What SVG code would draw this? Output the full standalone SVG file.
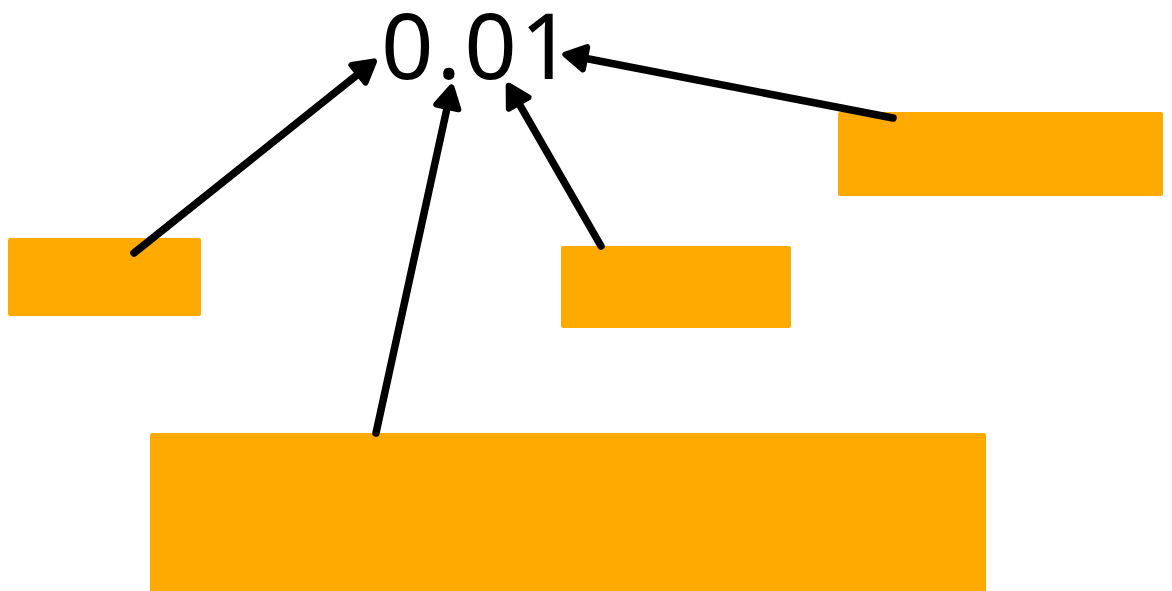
<svg xmlns="http://www.w3.org/2000/svg" width="1172" height="591" viewBox="0 0 1172 591">
<style>
.box{fill:#FFAA00}
.conn{stroke:#000;stroke-width:7.5;stroke-linecap:round;fill:none;marker-end:url(#ah)}
.lbl{font-family:"Noto Sans","Open Sans",sans-serif;font-size:92px;fill:#000}
</style>
<defs>
<marker id="ah" markerUnits="userSpaceOnUse" markerWidth="40" markerHeight="40" viewBox="-10 -15 30 30" refX="0" refY="0" orient="auto">
<path d="M-4,-8.5 L11,0 L-4,8.5 Z" fill="#000" stroke="#000" stroke-width="4.5" stroke-linejoin="round"/>
</marker>
</defs>
<rect width="1172" height="591" fill="#fff"/>
<g id="node-top"><text class="lbl" x="381" y="79" letter-spacing="3">0.01</text></g>
<g id="node-left"><rect class="box" x="8" y="238" width="193" height="78" rx="2"/></g>
<g id="node-right"><rect class="box" x="838" y="112" width="325" height="84" rx="2"/></g>
<g id="node-mid"><rect class="box" x="561" y="246" width="230" height="82" rx="2"/></g>
<g id="node-bottom"><rect class="box" x="150" y="433" width="836" height="170" rx="2"/></g>
<g id="connectors">
<line class="conn" x1="134" y1="253" x2="362.6" y2="70.5"/>
<line class="conn" x1="376" y1="433" x2="448.4" y2="101.7"/>
<line class="conn" x1="601" y1="246" x2="516" y2="98.4"/>
<line class="conn" x1="893" y1="118" x2="579.8" y2="57.3"/>
</g>
</svg>
